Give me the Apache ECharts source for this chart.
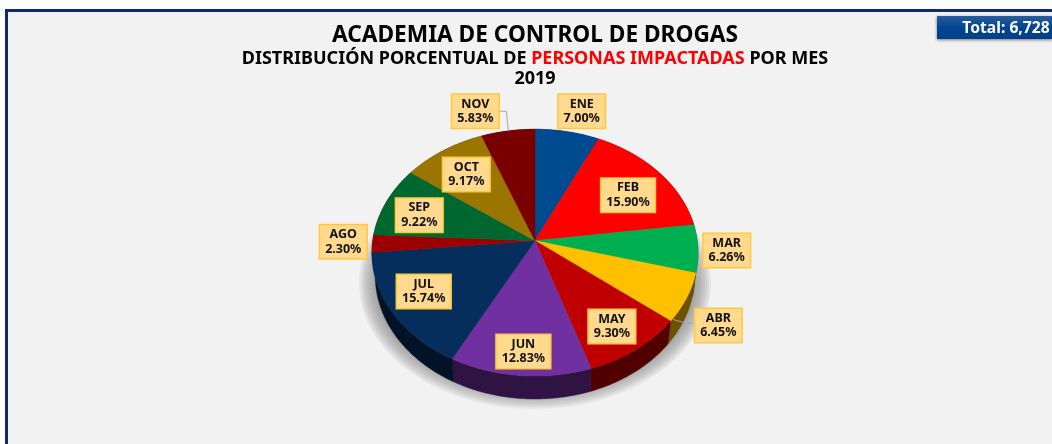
<!DOCTYPE html>
<html>
<head>
<meta charset="utf-8">
<title>Academia de control de drogas</title>
<script src="https://cdn.jsdelivr.net/npm/echarts@6/dist/echarts.min.js"></script>
<style>
  html, body { margin: 0; padding: 0; background: #fff; }
  #frame { position: absolute; left: 5px; top: 9px; width: 1047px; height: 435px; box-sizing: border-box;
    border-left: 3px solid #0f2a6e; border-top: 3px solid #0f2a6e; background: #f2f2f2; }
  #chart { position: absolute; left: 0; top: 0; width: 1052px; height: 444px; }
</style>
</head>
<body>
<div id="frame"></div>
<div id="chart"></div>
<script>
const months = ['ENE', 'FEB', 'MAR', 'ABR', 'MAY', 'JUN', 'JUL', 'AGO', 'SEP', 'OCT', 'NOV']
const percents = [7.00, 15.90, 6.26, 6.45, 9.30, 12.83, 15.74, 2.30, 9.22, 9.17, 5.83]
const total = '6,728'
const colors = ['#004a8f', '#ff0000', '#00b050', '#ffc000', '#c00000', '#7030a0', '#052e5c', '#9c0000', '#00682f', '#9a7500', '#7a0000']

// label box offset from the middle of the slice's rim
const labelOffsets = [[14.4, -20.5], [-30.8, 22.7], [28.8, 1.9], [31.7, 27.6], [-24.3, -22.8], [3.3, -24],
  [31.2, -21], [-29.2, -1.7], [32.5, 13.8], [23, 23.8], [-32.7, -19.8]]

const FONT = '"Noto Sans", sans-serif'

// the pie is a tilted disc: a circle seen in perspective
const cx = 535
const cy = 240.7
const A = 162.2
const B = 122.2
const P = 0.0969
const DEPTH = 23

function project (deg, r, depth) {
  let t = deg * Math.PI / 180
  let d = 1 + P * r * Math.cos(t)
  let k = depth ? 0.98 : 1
  return [cx + k * A * r * Math.sin(t) / d, cy + (depth || 0) - B * r * Math.cos(t) / d]
}

let sum = percents.reduce((a, b) => a + b, 0)
let starts = []
let acc = 0
for (let i = 0; i < percents.length; i++) {
  starts.push(acc / sum * 360)
  acc += percents[i]
}

function arc (from, to, depth) {
  let pts = []
  let steps = Math.max(2, Math.ceil(to - from))
  for (let i = 0; i <= steps; i++) {
    pts.push(project(from + (to - from) * i / steps, 1, depth))
  }
  return pts
}

function sliceRange (params, api) {
  let from = starts[params.dataIndex]
  return [from, from + api.value(0) / sum * 360]
}

// side of the disc is the slice colour in shade
function shade (color) {
  let c = echarts.color.parse(color)
  return 'rgb(' + Math.round(c[0] * 0.42) + ',' + Math.round(c[1] * 0.42) + ',' + Math.round(c[2] * 0.42) + ')'
}

function renderWall (params, api) {
  let [from, to] = sliceRange(params, api)
  let dark = shade(colors[params.dataIndex])
  return {
    type: 'polygon',
    shape: { points: arc(from, to, 0).concat(arc(from, to, DEPTH).reverse()) },
    style: { fill: dark, stroke: dark, lineWidth: 0.5 }
  }
}

function renderTop (params, api) {
  let [from, to] = sliceRange(params, api)
  let c = colors[params.dataIndex]
  return {
    type: 'polygon',
    shape: { points: [[cx, cy]].concat(arc(from, to, 0)) },
    style: { fill: c, stroke: c, lineWidth: 0.5 }
  }
}

function renderLabel (params, api) {
  let i = params.dataIndex
  let [from, to] = sliceRange(params, api)
  let rim = project((from + to) / 2, 1, 0)
  let x = rim[0] + labelOffsets[i][0]
  let y = rim[1] + labelOffsets[i][1]
  let children = []
  if (months[i] === 'NOV') {
    children.push({ type: 'polyline', shape: { points: [[x + 24, y], [x + 31, y], [x + 33, y + 20]] }, style: { fill: null, stroke: '#a6a6a6', lineWidth: 1 } })
  }
  if (months[i] === 'ABR') {
    children.push({ type: 'polyline', shape: { points: [[x - 24, y - 2], [x - 35, y - 3], [x - 45, y - 6]] }, style: { fill: null, stroke: '#a6a6a6', lineWidth: 1 } })
  }
  children.push({
    type: 'text',
    x: x,
    y: y,
    style: {
      text: months[i] + '\n' + api.value(0).toFixed(2) + '%',
      font: 'bold 12.5px ' + FONT,
      lineHeight: 14.5,
      fill: '#111',
      align: 'center',
      verticalAlign: 'middle',
      backgroundColor: '#ffd98e',
      borderColor: '#ffc93c',
      borderWidth: 1.5,
      padding: [2, 5, 2, 5]
    }
  })
  return { type: 'group', children: children }
}

// soft shadow under the disc
let shadow = []
for (let i = 0; i < 9; i++) {
  shadow.push({
    type: 'ellipse',
    z: 0,
    silent: true,
    shape: { cx: 535, cy: 283, rx: 176 - i * 2, ry: 126 - i * 2 },
    style: { fill: 'rgba(120,120,120,0.1)' }
  })
}

let chart = echarts.init(document.getElementById('chart'), null, { renderer: 'canvas' })
chart.setOption({
  animation: false,
  title: [
    {
      text: 'ACADEMIA DE CONTROL DE DROGAS',
      left: 530,
      top: 19,
      textAlign: 'center',
      textStyle: { fontFamily: FONT, fontSize: 22.7, fontWeight: 'bold', color: '#000' }
    },
    {
      text: '{a|DISTRIBUCIÓN PORCENTUAL DE }{b|PERSONAS IMPACTADAS}{a| POR MES}',
      left: 530,
      top: 45,
      textAlign: 'center',
      textStyle: {
        rich: {
          a: { fontFamily: FONT, fontSize: 18, fontWeight: 'bold', color: '#000' },
          b: { fontFamily: FONT, fontSize: 18, fontWeight: 'bold', color: '#ff0000' }
        }
      }
    },
    {
      text: '2019',
      left: 530,
      top: 65,
      textAlign: 'center',
      textStyle: { fontFamily: FONT, fontSize: 18, fontWeight: 'bold', color: '#000' }
    }
  ],
  graphic: shadow.concat([
    {
      type: 'rect',
      z: 5,
      shape: { x: 937, y: 16, width: 115, height: 23 },
      style: {
        fill: new echarts.graphic.LinearGradient(0, 0, 0, 1, [
          { offset: 0, color: '#2a5c9c' },
          { offset: 0.5, color: '#034591' },
          { offset: 1, color: '#003f8c' }
        ]),
        shadowBlur: 3,
        shadowOffsetY: 1,
        shadowColor: 'rgba(0,0,0,0.5)'
      }
    },
    {
      type: 'text',
      z: 6,
      x: 1006,
      y: 29,
      style: {
        text: 'Total: ' + total,
        font: 'bold 15.7px ' + FONT,
        fill: '#fff',
        align: 'center',
        verticalAlign: 'middle'
      }
    }
  ]),
  series: [
    { type: 'custom', coordinateSystem: 'none', z: 2, silent: true, data: percents, renderItem: renderWall },
    { type: 'custom', coordinateSystem: 'none', z: 3, silent: true, data: percents, renderItem: renderTop },
    { type: 'custom', coordinateSystem: 'none', z: 4, silent: true, data: percents, renderItem: renderLabel }
  ]
})
</script>
</body>
</html>
